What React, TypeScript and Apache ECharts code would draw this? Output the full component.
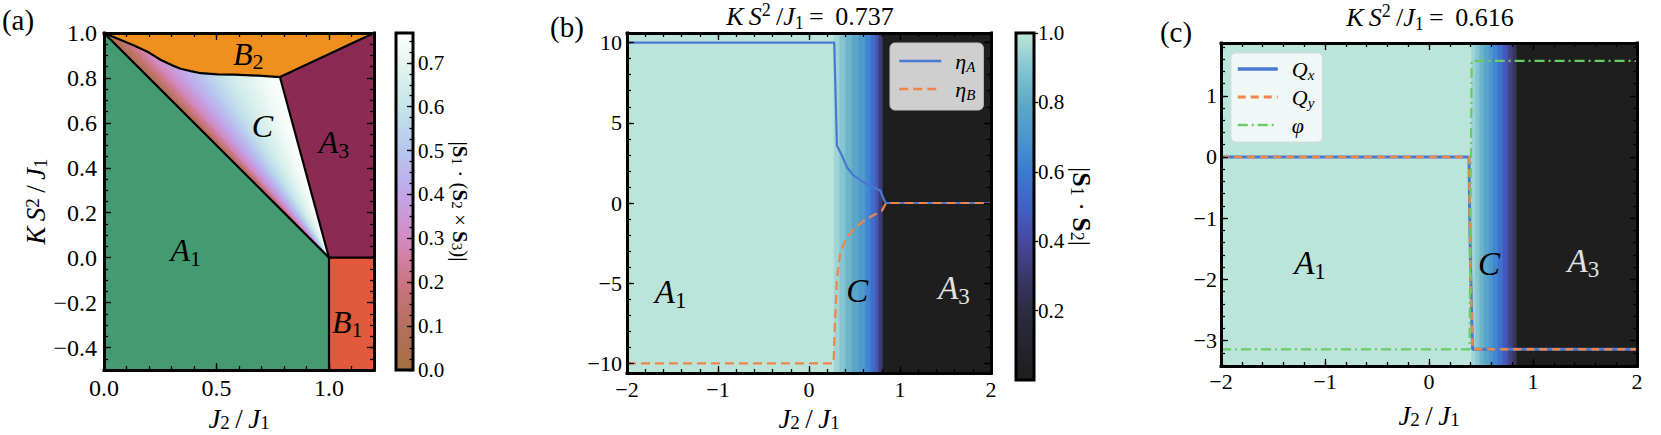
import React, { useEffect, useRef } from 'react';
import * as echarts from 'echarts';

const SERIF = 'Liberation Serif, DejaVu Serif, serif';

// ================= Panel (a): phase diagram =================
const A_X_RANGE = [0, 1.2];
const A_Y_RANGE = [-0.5, 1.0];
const A_X_TICKS = [0, 0.5, 1.0];
const A_Y_TICKS = [-0.4, -0.2, 0, 0.2, 0.4, 0.6, 0.8, 1.0];

const A1_X = [0, 0, 1.0, 1.0];
const A1_Y = [-0.5, 1.0, 0.0, -0.5];
const B1_X = [1.0, 1.2, 1.2, 1.0];
const B1_Y = [-0.5, -0.5, 0.0, 0.0];
const A3_X = [1.0, 1.2, 1.2, 0.782];
const A3_Y = [0.0, 0.0, 1.0, 0.804];
const B2_CORNER_X = [1.2];
const B2_CORNER_Y = [1.0];
// B2 / C boundary, from the top-left corner to the B2-C-A3 point
const B2C_X = [0, 0.131, 0.191, 0.251, 0.303, 0.341, 0.386, 0.43, 0.505, 0.58, 0.685, 0.782];
const B2C_Y = [1.0, 0.945, 0.918, 0.881, 0.856, 0.841, 0.83, 0.821, 0.816, 0.815, 0.81, 0.804];
// |S1.(S2xS3)| along that boundary (iso-lines fan out from the C apex)
const B2C_CHI = [0.0, 0.22, 0.29, 0.33, 0.37, 0.41, 0.45, 0.5, 0.58, 0.65, 0.72, 0.768];
const C_APEX = [1.0, 0.0];

const A_LABEL_TEXT = ['{i|A}{sub|1}', '{i|B}{sub|2}', '{i|C}', '{i|A}{sub|3}', '{i|B}{sub|1}'];
const A_LABEL_X = [0.363, 0.641, 0.704, 1.022, 1.081];
const A_LABEL_Y = [0.033, 0.907, 0.586, 0.513, -0.285];

const CHI_MAX = 0.768;
const CB_A_TICKS = [0, 0.1, 0.2, 0.3, 0.4, 0.5, 0.6, 0.7];
const CMAP_A_POS = [0, 0.1, 0.2, 0.3, 0.4, 0.5, 0.6, 0.7, 0.768];
const CMAP_A_COL = ['#a2703e', '#b66f5e', '#cb7482', '#d38bc1', '#c2a6ea', '#b6c6ef', '#c4e5ea', '#e4f5ef', '#ffffff'];

const COL_A1 = '#449b73';
const COL_B1 = '#e05a3b';
const COL_A3 = '#8b2a53';
const COL_B2 = '#ef901e';

// ================= Panel (b) =================
const B_X_RANGE = [-2, 2];
const B_Y_RANGE = [-10.6, 10.6];
const B_X_TICKS = [-2, -1, 0, 1, 2];
const B_Y_TICKS = [-10, -5, 0, 5, 10];
const B_BAND_EDGES = [-2, 0.277, 0.336, 0.398, 0.471, 0.544, 0.618, 0.673, 0.728, 0.765, 0.813, 2];
const B_BAND_VALS = [1.0, 0.95, 0.9, 0.84, 0.78, 0.72, 0.64, 0.55, 0.45, 0.32, 0.0];
const ETA_A_J2 = [-2, 0.277, 0.307, 0.362, 0.417, 0.49, 0.6, 0.71, 0.783, 0.827, 0.846, 2];
const ETA_A = [10, 10, 3.58, 2.96, 2.23, 1.71, 1.3, 0.98, 0.78, 0.16, 0, 0];
const ETA_B_J2 = [-2, 0.27, 0.285, 0.307, 0.343, 0.398, 0.49, 0.6, 0.71, 0.8, 0.846, 2];
const ETA_B = [-10, -10, -7.5, -4.7, -3.15, -2.35, -1.62, -1.12, -0.75, -0.5, 0, 0];
const B_LABEL_TEXT = ['{i|A}{sub|1}', '{i|C}', '{w|A}{wsub|3}'];
const B_LABEL_X = [-1.52, 0.531, 1.593];
const B_LABEL_Y = [-5.57, -5.5, -5.3];

const CB_B_TICKS = [0.2, 0.4, 0.6, 0.8, 1.0];
const CMAP_B_POS = [0, 0.1, 0.2, 0.3, 0.4, 0.5, 0.6, 0.7, 0.8, 0.9, 1.0];
const CMAP_B_COL = ['#1e1e1e', '#25242f', '#2d2c42', '#39386a', '#4848a0', '#4161c6', '#3a7bd2', '#4a97cc', '#5eaac7', '#85c6d1', '#bbe5da'];

// ================= Panel (c) =================
const C_X_RANGE = [-2, 2];
const C_Y_RANGE = [-3.414, 1.862];
const C_X_TICKS = [-2, -1, 0, 1, 2];
const C_Y_TICKS = [-3, -2, -1, 0, 1];
const C_BAND_EDGES = [-2, 0.409, 0.446, 0.483, 0.523, 0.569, 0.615, 0.662, 0.708, 0.754, 0.8, 0.843, 2];
const C_BAND_VALS = [1.0, 0.95, 0.9, 0.84, 0.78, 0.71, 0.64, 0.56, 0.47, 0.37, 0.27, 0.0];
const Q_J2 = [-2, 0.385, 0.39, 0.4, 0.415, 0.42, 2];
const QX = [0, 0, -0.78, -1.87, -2.96, -3.1416, -3.1416];
const QY = [0, 0, -0.78, -1.87, -2.96, -3.1416, -3.1416];
const PHI_J2 = [-2, 0.39, 0.41, 2];
const PHI = [-3.1416, -3.1416, 1.5708, 1.5708];
const C_LABEL_TEXT = ['{i|A}{sub|1}', '{i|C}', '{w|A}{wsub|3}'];
const C_LABEL_X = [-1.144, 0.577, 1.484];
const C_LABEL_Y = [-1.726, -1.754, -1.7];

const BLUE = '#4878d0';
const ORANGE = '#ee854a';
const GREEN = '#6acc64';

const TS = '\u2009'; // thin space
const X_NAME = `{i|J}{sub|2}{r|${TS}/${TS}}{i|J}{sub|1}`;
const A_Y_NAME = `{i|K${TS}S}{sup|2}{r|${TS}/${TS}}{i|J}{sub|1}`;
const TITLE_B = `{i|K${TS}S}{sup|2}{r|${TS}/}{i|J}{sub|1}{r|${TS}=${TS} 0.737}`;
const TITLE_C = `{i|K${TS}S}{sup|2}{r|${TS}/}{i|J}{sub|1}{r|${TS}=${TS} 0.616}`;

// ================= helpers =================
function hexToRgb(h: string) {
  const n = parseInt(h.slice(1), 16);
  return [(n >> 16) & 255, (n >> 8) & 255, n & 255];
}
function cmap(pos: number[], cols: string[], v: number) {
  if (v <= pos[0]) return cols[0];
  if (v >= pos[pos.length - 1]) return cols[cols.length - 1];
  let i = 0;
  while (i < pos.length - 2 && v > pos[i + 1]) i++;
  const t = (v - pos[i]) / (pos[i + 1] - pos[i]);
  const a = hexToRgb(cols[i]);
  const b = hexToRgb(cols[i + 1]);
  const c = a.map((x, k) => Math.round(x + (b[k] - x) * t));
  return `rgb(${c[0]},${c[1]},${c[2]})`;
}
function steps(lo: number, hi: number, step: number) {
  const out: number[] = [];
  const n = Math.round((hi - lo) / step);
  for (let k = 0; k <= n; k++) out.push(Math.round((lo + k * step) * 10000) / 10000);
  return out;
}
const fmt1 = (v: number) => (v < 0 ? '\u2212' : '') + Math.abs(v).toFixed(1);
const fmt0 = (v: number) => (v < 0 ? '\u2212' : '') + Math.abs(v).toFixed(0);

function rich(size: number, color = '#000', lhScale = 1.2) {
  const lh = Math.round(size * lhScale);
  const s = Math.round(size * 0.7);
  const base = { fontFamily: SERIF, color, fill: color };
  return {
    i: { ...base, fontStyle: 'italic', fontSize: size, lineHeight: lh },
    r: { ...base, fontSize: size, lineHeight: lh },
    b: { ...base, fontWeight: 'bold', fontSize: size, lineHeight: lh },
    sub: { ...base, fontSize: s, lineHeight: s, verticalAlign: 'bottom' },
    isub: { ...base, fontStyle: 'italic', fontSize: s, lineHeight: s, verticalAlign: 'bottom' },
    sup: { ...base, fontSize: s, lineHeight: s, verticalAlign: 'top' },
    w: { fontFamily: SERIF, fontStyle: 'italic', fontSize: size, lineHeight: lh, color: '#e2e2e2', fill: '#e2e2e2' },
    wsub: { fontFamily: SERIF, fontSize: s, lineHeight: s, verticalAlign: 'bottom', color: '#e2e2e2', fill: '#e2e2e2' },
    gap: { width: 9, fontSize: size, lineHeight: lh, fontFamily: SERIF },
  };
}

function axisObj(grid: number, range: number[], position: string, ticks: number[], tickLen: number,
  showLine: boolean, label?: any, nameCfg?: any, inside = true) {
  return {
    type: 'value', gridIndex: grid, min: range[0], max: range[1], position, z: 5,
    axisLine: { show: showLine, onZero: false, lineStyle: { color: '#000', width: 3, cap: 'square' } },
    axisTick: { show: ticks.length > 0, inside, length: tickLen, customValues: ticks, lineStyle: { color: '#000', width: 1.3 } },
    axisLabel: label
      ? { show: true, customValues: label.values, formatter: label.fmt, margin: label.margin, color: '#000', fontFamily: SERIF, fontSize: label.size, showMinLabel: true, showMaxLabel: true }
      : { show: false },
    splitLine: { show: false },
    minorTick: { show: false },
    minorSplitLine: { show: false },
    silent: true,
    ...(nameCfg
      ? { name: nameCfg.name, nameLocation: 'middle', nameGap: nameCfg.gap, nameRotate: nameCfg.rotate,
          nameTextStyle: { fontFamily: SERIF, fontSize: nameCfg.size, lineHeight: nameCfg.size, color: '#000', rich: rich(nameCfg.size, '#000', 1.0) } }
      : {}),
  };
}

const xAxis: any[] = [];
const yAxis: any[] = [];
const pushX = (a: any) => { xAxis.push(a); return xAxis.length - 1; };
const pushY = (a: any) => { yAxis.push(a); return yAxis.length - 1; };

function panelAxes(g: number, xr: number[], yr: number[], xMaj: number[], xMin: number[], yMaj: number[], yMin: number[],
  xFmt: any, yFmt: any, size: number, xMargin: number, yMargin: number, xName: any, yName: any) {
  const xi = pushX(axisObj(g, xr, 'bottom', xMaj, 7, true, { values: xMaj, fmt: xFmt, margin: xMargin, size }, xName));
  pushX(axisObj(g, xr, 'top', xMaj, 7, true));
  pushX(axisObj(g, xr, 'bottom', xMin, 4, false));
  pushX(axisObj(g, xr, 'top', xMin, 4, false));
  const yi = pushY(axisObj(g, yr, 'left', yMaj, 7, true, { values: yMaj, fmt: yFmt, margin: yMargin, size }, yName));
  pushY(axisObj(g, yr, 'right', yMaj, 7, true));
  pushY(axisObj(g, yr, 'left', yMin, 4, false));
  pushY(axisObj(g, yr, 'right', yMin, 4, false));
  return { xi, yi };
}

function polygonSeries(xs: number[], ys: number[], color: string, xi: number, yi: number) {
  const data = xs.map((x, i) => [x, ys[i]]);
  return {
    type: 'custom', xAxisIndex: xi, yAxisIndex: yi, z: 1, silent: true, data,
    renderItem: (params: any, api: any) => {
      if (params.dataIndex !== 0) return null;
      const pts = data.map((d) => api.coord(d));
      return { type: 'polygon', shape: { points: pts }, style: { fill: color, stroke: color, lineWidth: 0.5 } };
    },
  };
}

function boundary(xs: number[], ys: number[], xi: number, yi: number) {
  return {
    type: 'line', xAxisIndex: xi, yAxisIndex: yi, z: 3, silent: true, symbol: 'none',
    data: xs.map((x, i) => [x, ys[i]]),
    lineStyle: { color: '#000', width: 2.2, join: 'round' },
  };
}

function bandSeries(edges: number[], vals: number[], xi: number, yi: number) {
  const data = vals.map((v, i) => [edges[i], edges[i + 1], v]);
  return {
    type: 'custom', xAxisIndex: xi, yAxisIndex: yi, z: 1, silent: true, data,
    encode: { x: [0, 1] },
    renderItem: (params: any, api: any) => {
      const cs = params.coordSys;
      const x0 = api.coord([api.value(0), 0])[0];
      const x1 = api.coord([api.value(1), 0])[0];
      const col = cmap(CMAP_B_POS, CMAP_B_COL, api.value(2));
      return { type: 'rect', shape: { x: x0, y: cs.y, width: x1 - x0, height: cs.height }, style: { fill: col, stroke: col, lineWidth: 0.6 } };
    },
  };
}

function labelSeries(texts: string[], xs: number[], ys: number[], xi: number, yi: number, size: number) {
  const data = xs.map((x, i) => [x, ys[i], i]);
  return {
    type: 'custom', xAxisIndex: xi, yAxisIndex: yi, z: 4, silent: true, data,
    renderItem: (params: any, api: any) => {
      const p = api.coord([api.value(0), api.value(1)]);
      return {
        type: 'text', x: p[0], y: p[1],
        style: { text: texts[api.value(2)], rich: rich(size), fill: '#000', fontFamily: SERIF, fontSize: size, align: 'center', verticalAlign: 'middle', textAlign: 'center', textVerticalAlign: 'middle' },
      };
    },
  };
}

function lineSeries(name: string, xs: number[], ys: number[], xi: number, yi: number, color: string, width: number, type: any) {
  return {
    type: 'line', name, xAxisIndex: xi, yAxisIndex: yi, z: 3, silent: true, symbol: 'none', showSymbol: false,
    data: xs.map((x, i) => [x, ys[i]]),
    lineStyle: { color, width, type },
    itemStyle: { color },
    emphasis: { disabled: true },
  };
}

function colorbarSeries(max: number, pos: number[], cols: string[], xi: number, yi: number) {
  return {
    type: 'custom', xAxisIndex: xi, yAxisIndex: yi, z: 1, silent: true, data: [[0, 0, 1, max]],
    renderItem: (params: any, api: any) => {
      const p0 = api.coord([api.value(0), api.value(1)]);
      const p1 = api.coord([api.value(2), api.value(3)]);
      const stops = pos.map((p, i) => ({ offset: Math.min(1, p / max), color: cols[i] }));
      return {
        type: 'rect',
        shape: { x: p0[0], y: p1[1], width: p1[0] - p0[0], height: p0[1] - p1[1] },
        style: { fill: new echarts.graphic.LinearGradient(0, 1, 0, 0, stops), stroke: '#000', lineWidth: 3 },
      };
    },
  };
}

function buildOption() {
  xAxis.length = 0;
  yAxis.length = 0;
  const G = { containLabel: false, outerBoundsMode: 'none' };
  const grid = [
    { ...G, left: 104, top: 33, width: 270, height: 337 },
    { ...G, left: 396, top: 33, width: 17, height: 337 },
    { ...G, left: 627, top: 33, width: 364, height: 340 },
    { ...G, left: 1016, top: 33, width: 18, height: 347 },
    { ...G, left: 1221, top: 43, width: 416, height: 323 },
  ];

  const a = panelAxes(0, A_X_RANGE, A_Y_RANGE, A_X_TICKS, steps(0, 1.2, 0.1), A_Y_TICKS, steps(-0.5, 1.0, 0.05),
    fmt1, fmt1, 24, 6, 7,
    { name: X_NAME, gap: 35, size: 27 },
    { name: A_Y_NAME, gap: 37, size: 27, rotate: 90 });
  const cbaX = pushX({ type: 'value', gridIndex: 1, min: 0, max: 1, show: false });
  const cbaY = pushY(axisObj(1, [0, CHI_MAX], 'right', CB_A_TICKS, 6, false,
    { values: CB_A_TICKS, fmt: fmt1, margin: 5, size: 21 },
    { name: '{r||}{b|S}{sub|1}{r| · (}{b|S}{sub|2}{r| × }{b|S}{sub|3}{r|)|}', gap: 36, size: 21, rotate: -90 }));
  pushY(axisObj(1, [0, CHI_MAX], 'right', steps(0, 0.75, 0.025), 3.5, false));
  const b = panelAxes(2, B_X_RANGE, B_Y_RANGE, B_X_TICKS, steps(-2, 2, 0.2), B_Y_TICKS, steps(-10, 10, 1),
    fmt0, fmt0, 22, 5, 5,
    { name: X_NAME, gap: 32, size: 27 }, null);
  const cbbX = pushX({ type: 'value', gridIndex: 3, min: 0, max: 1, show: false });
  const cbbY = pushY(axisObj(3, [0, 1], 'right', CB_B_TICKS, 4, false,
    { values: CB_B_TICKS, fmt: fmt1, margin: 4, size: 21 },
    { name: '{r||}{b|S}{sub|1}{r| · }{b|S}{sub|2}{r||}', gap: 32, size: 26, rotate: -90 }, false));
  const c = panelAxes(4, C_X_RANGE, C_Y_RANGE, C_X_TICKS, steps(-2, 2, 0.2), C_Y_TICKS, steps(-3.4, 1.8, 0.2),
    fmt0, fmt0, 22, 4, 4,
    { name: X_NAME, gap: 36, size: 27 }, null);

  const fanData = B2C_X.slice(0, -1).map((x, i) => [x, B2C_Y[i], B2C_X[i + 1], B2C_Y[i + 1], B2C_CHI[i], B2C_CHI[i + 1]]);
  const fan = {
    type: 'custom', xAxisIndex: a.xi, yAxisIndex: a.yi, z: 1, silent: true, data: fanData,
    renderItem: (params: any, api: any) => {
      const x0 = api.value(0), y0 = api.value(1), x1 = api.value(2), y1 = api.value(3);
      const v0 = api.value(4), v1 = api.value(5);
      const apex = api.coord(C_APEX);
      const children: any[] = [];
      const K = 10;
      for (let k = 0; k < K; k++) {
        const t0 = k / K, t1 = (k + 1) / K, tm = (k + 0.5) / K;
        const pa = api.coord([x0 + (x1 - x0) * t0, y0 + (y1 - y0) * t0]);
        const pb = api.coord([x0 + (x1 - x0) * t1, y0 + (y1 - y0) * t1]);
        const col = cmap(CMAP_A_POS, CMAP_A_COL, v0 + (v1 - v0) * tm);
        children.push({ type: 'polygon', shape: { points: [apex, pa, pb] }, style: { fill: col, stroke: col, lineWidth: 0.7, lineJoin: 'round' } });
      }
      return { type: 'group', children };
    },
  };

  const b2x = [...B2_CORNER_X, ...B2C_X.slice().reverse()];
  const b2y = [...B2_CORNER_Y, ...B2C_Y.slice().reverse()];
  const tp = B2C_X.length - 1;

  const series: any[] = [
    polygonSeries(A1_X, A1_Y, COL_A1, a.xi, a.yi),
    polygonSeries(B1_X, B1_Y, COL_B1, a.xi, a.yi),
    polygonSeries(A3_X, A3_Y, COL_A3, a.xi, a.yi),
    polygonSeries(b2x, b2y, COL_B2, a.xi, a.yi),
    fan,
    boundary([A1_X[1], A1_X[2]], [A1_Y[1], A1_Y[2]], a.xi, a.yi),
    boundary([A1_X[2], A1_X[3]], [A1_Y[2], A1_Y[3]], a.xi, a.yi),
    boundary([B1_X[3], B1_X[2]], [B1_Y[3], B1_Y[2]], a.xi, a.yi),
    boundary([B2C_X[tp], C_APEX[0]], [B2C_Y[tp], C_APEX[1]], a.xi, a.yi),
    boundary([B2C_X[tp], B2_CORNER_X[0]], [B2C_Y[tp], B2_CORNER_Y[0]], a.xi, a.yi),
    boundary(B2C_X, B2C_Y, a.xi, a.yi),
    labelSeries(A_LABEL_TEXT, A_LABEL_X, A_LABEL_Y, a.xi, a.yi, 32),
    colorbarSeries(CHI_MAX, CMAP_A_POS, CMAP_A_COL, cbaX, cbaY),
    bandSeries(B_BAND_EDGES, B_BAND_VALS, b.xi, b.yi),
    lineSeries('etaA', ETA_A_J2, ETA_A, b.xi, b.yi, BLUE, 2.2, 'solid'),
    lineSeries('etaB', ETA_B_J2, ETA_B, b.xi, b.yi, ORANGE, 2.2, [9, 5]),
    labelSeries(B_LABEL_TEXT, B_LABEL_X, B_LABEL_Y, b.xi, b.yi, 33),
    colorbarSeries(1, CMAP_B_POS, CMAP_B_COL, cbbX, cbbY),
    bandSeries(C_BAND_EDGES, C_BAND_VALS, c.xi, c.yi),
    lineSeries('Qx', Q_J2, QX, c.xi, c.yi, BLUE, 3, 'solid'),
    lineSeries('Qy', Q_J2, QY, c.xi, c.yi, ORANGE, 2.5, [8, 5]),
    lineSeries('phi', PHI_J2, PHI, c.xi, c.yi, GREEN, 2.2, [10, 4, 2, 4]),
    labelSeries(C_LABEL_TEXT, C_LABEL_X, C_LABEL_Y, c.xi, c.yi, 33),
  ];

  const LEGEND_TEXT: Record<string, string> = {
    etaA: '{gap| }{i|η}{isub|A}',
    etaB: '{gap| }{i|η}{isub|B}',
    Qx: '{gap| }{i|Q}{isub|x}',
    Qy: '{gap| }{i|Q}{isub|y}',
    phi: '{gap| }{i|φ}',
  };
  const legendRich = rich(22);
  const hiddenSymbol = { color: 'rgba(0,0,0,0)', borderColor: 'rgba(0,0,0,0)', borderWidth: 0, opacity: 0 };
  const li = (name: string, color: string, width: number, type: any) => ({ name, itemStyle: hiddenSymbol, lineStyle: { color, width, type } });
  const legend = [
    {
      data: [li('etaA', BLUE, 2.5, 'solid'), li('etaB', ORANGE, 2.5, [9, 5])],
      orient: 'vertical', left: 890, top: 43, itemWidth: 42, itemHeight: 12, itemGap: 4,
      padding: [7, 8, 8, 8], backgroundColor: 'rgba(214,214,214,0.96)', borderColor: '#c4c4c4', borderWidth: 1, borderRadius: 5,
      itemStyle: hiddenSymbol,
      selectedMode: false, formatter: (n: string) => LEGEND_TEXT[n], textStyle: { color: '#000', fontFamily: SERIF, fontSize: 22, rich: legendRich }, z: 6,
    },
    {
      data: [li('Qx', BLUE, 3.5, 'solid'), li('Qy', ORANGE, 2.8, [8, 5]), li('phi', GREEN, 2.5, [10, 4, 2, 4])],
      orient: 'vertical', left: 1231, top: 53, itemWidth: 40, itemHeight: 12, itemGap: 4,
      padding: [5, 8, 6, 5], backgroundColor: 'rgba(246,250,249,0.9)', borderColor: '#d6dcdb', borderWidth: 1, borderRadius: 5,
      itemStyle: hiddenSymbol,
      selectedMode: false, formatter: (n: string) => LEGEND_TEXT[n], textStyle: { color: '#000', fontFamily: SERIF, fontSize: 22, rich: legendRich }, z: 6,
    },
  ];

  const gtext = (x: number, y: number, text: string, size: number) => ({
    type: 'text', x, y, z: 10, silent: true,
    style: { text, rich: rich(size), fill: '#000', fontFamily: SERIF, fontSize: size, align: 'center', verticalAlign: 'middle', textAlign: 'center', textVerticalAlign: 'middle' },
  });
  const graphic = [
    gtext(18, 20, '{r|(a)}', 29),
    gtext(567, 27, '{r|(b)}', 29),
    gtext(1176, 32, '{r|(c)}', 29),
    gtext(810, 16, TITLE_B, 26),
    gtext(1430, 17, TITLE_C, 26),
  ];

  return {
    animation: false, backgroundColor: '#ffffff',
    textStyle: { fontFamily: SERIF },
    grid, xAxis, yAxis, series, legend, graphic,
  };
}

export default function App() {
  const ref = useRef<HTMLDivElement>(null);
  useEffect(() => {
    document.body.style.margin = '0';
    const chart = echarts.init(ref.current as HTMLDivElement, null, { renderer: 'svg' });
    chart.setOption(buildOption() as any);
    return () => chart.dispose();
  }, []);
  return <div ref={ref} style={{ width: 1661, height: 435 }} />;
}
